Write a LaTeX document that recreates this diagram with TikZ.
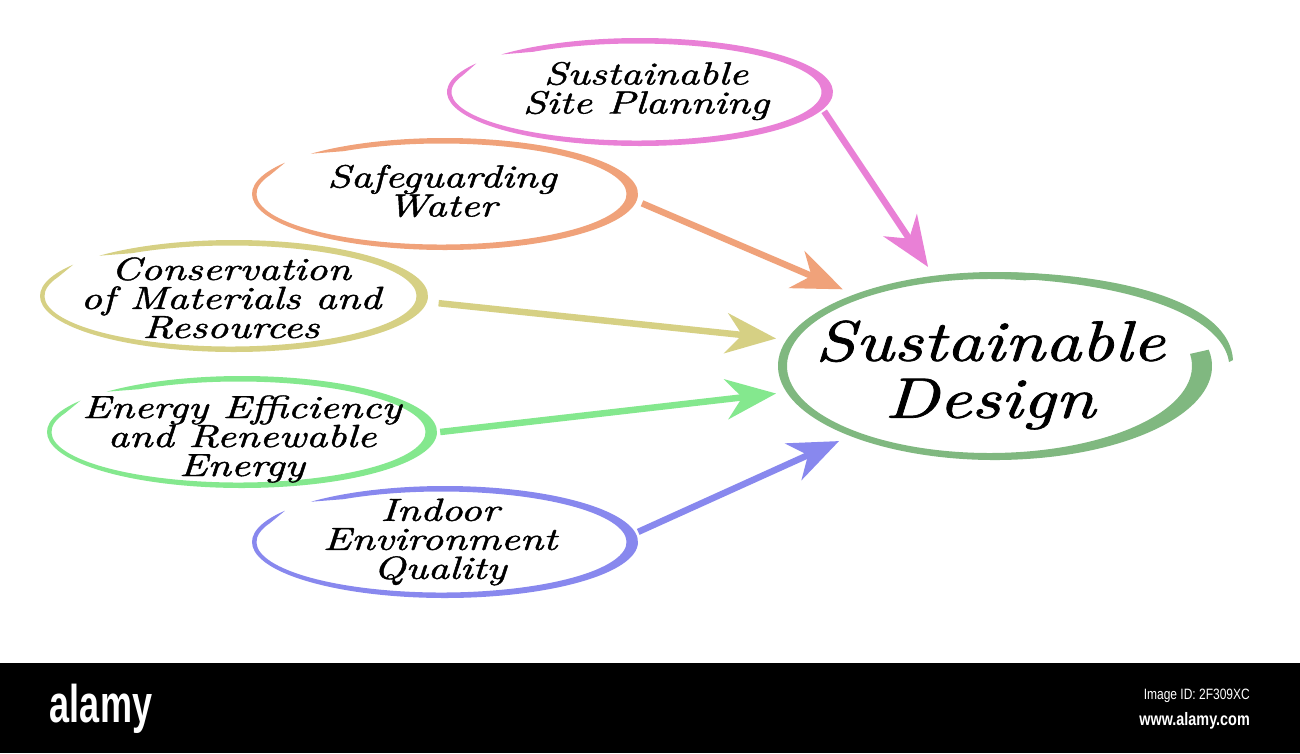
\documentclass[tikz,border=0pt]{standalone}
\usepackage{fontspec}
\usetikzlibrary{arrows.meta,shapes.geometric}
\newfontfamily\wmfont[FakeStretch=0.68]{Liberation Sans}
\newfontfamily\wmsmall[FakeStretch=0.8]{Liberation Sans}
\newfontfamily\handfont{lmroman10-italic.otf}[FakeBold=1.2]
\definecolor{pinkc}{RGB}{233,128,214}
\definecolor{orangec}{RGB}{240,162,122}
\definecolor{yellowc}{RGB}{214,208,132}
\definecolor{lgreenc}{RGB}{132,232,142}
\definecolor{bluec}{RGB}{136,136,238}
\definecolor{dgreenc}{RGB}{128,184,128}
\def\btx{8}\def\bty{5.5}\def\bd{3.5}\def\bdel{12}
% color, cx, cy, rx, ry, start angle, end angle
\newcommand\brushell[7]{%
  \fill[#1] (#2,#3) ++(#6:#4 and #5)
    arc[start angle=#6,end angle=#7,x radius=#4,y radius=#5]
    -- ([shift={(#7-\bdel:{#4-\btx} and {#5-\bty})}]#2-\bd,#3)
    arc[start angle=#7-\bdel,end angle=#6+\bdel,x radius=#4-\btx,y radius=#5-\bty]
    -- cycle;}
\tikzset{
  hidden/.style={ellipse, draw=none, inner sep=0pt},
  lbl/.style={align=center, text=black, xscale=1.3, transform shape,
    font=\handfont\fontsize{32}{29}\selectfont},
  biglbl/.style={align=center, text=black, xscale=1.25, transform shape,
    font=\handfont\fontsize{57}{57}\selectfont},
  arr/.style={line width=6.5pt, -{Stealth[length=50pt,width=40pt,inset=16pt]}},
}
\begin{document}
\begin{tikzpicture}[x=1pt,y=-1pt]
\useasboundingbox (0,0) rectangle (1300,753);
\fill[white] (0,0) rectangle (1300,753);

% hidden ellipse nodes for connectors
\node[hidden, minimum width=392pt, minimum height=112pt] (site) at (640,92) {};
\node[hidden, minimum width=400pt, minimum height=116pt] (water) at (445,193) {};
\node[hidden, minimum width=414pt, minimum height=116pt] (cons) at (233,296) {};
\node[hidden, minimum width=396pt, minimum height=116pt] (energy) at (242,432) {};
\node[hidden, minimum width=392pt, minimum height=116pt] (indoor) at (445,542) {};
\node[hidden, minimum width=464pt, minimum height=208pt] (design) at (1000,366) {};

% brush ellipses
\brushell{pinkc}{640}{92}{193}{54}{224}{572}
\brushell{orangec}{445}{194}{193}{56}{226}{574}
\brushell{yellowc}{234}{296}{194}{56}{226}{574}
\brushell{lgreenc}{242}{432}{195}{56}{226}{574}
\brushell{bluec}{445}{542}{193}{56}{226}{574}

% big ellipse
\fill[dgreenc] (995,366) ++(350:217 and 94)
  arc[start angle=350,end angle=650,x radius=217,y radius=94]
  -- ([shift={(640:202.5 and 87)}]989.5,366)
  arc[start angle=640,end angle=352,x radius=202.5,y radius=87] -- cycle;
\fill[dgreenc] (1000,272) .. controls (1130,274) and (1230,305) .. (1233,360)
  -- (1229,362) .. controls (1222,314) and (1125,282) .. (1000,278) -- cycle;

% labels
\node[lbl] (sitet) at (646,91) {Sustainable\\Site Planning};
\node[lbl] (watert) at (442,191) {Safeguarding\\Water};
\node[lbl] (const) at (231,298) {Conservation\\of Materials and\\Resources};
\node[lbl] (energyt) at (242,439) {Energy Efficiency\\and Renewable\\Energy};
\node[lbl] (indoort) at (440,542) {Indoor\\Environment\\Quality};
\node[biglbl] (designt) at (990,375) {Sustainable\\Design};

% arrows
\draw[arr, pinkc] (site.-6) -- (design.126);
\draw[arr, orangec] (water.-3) -- (design.154.6);
\draw[arr, yellowc] (cons.-2) -- (design.173.3);
\draw[arr, lgreenc] (energy.0) -- (design.-173.2);
\draw[arr, bluec] (indoor.3.5) -- (design.-155.5);

% bottom bar
\fill[black] (0,663) rectangle (1300,753);
\node[anchor=base, text=white, inner sep=0pt, font=\wmfont\bfseries\fontsize{53}{53}\selectfont] (alamy) at (101,722) {alamy};
\node[anchor=base east, text=white, inner sep=0pt, font=\wmsmall\fontsize{15}{15}\selectfont] (imgid) at (1250,699) {Image ID: 2F309XC};
\node[anchor=base east, text=white, inner sep=0pt, font=\wmsmall\bfseries\fontsize{18}{18}\selectfont] (www) at (1250,725) {www.alamy.com};
\end{tikzpicture}
\end{document}
